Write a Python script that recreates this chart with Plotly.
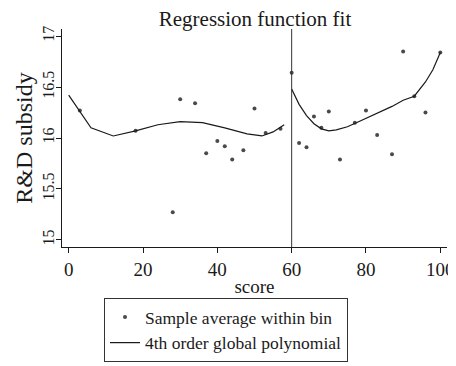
import plotly.graph_objects as go

# Binned sample averages
bin_x = [3, 18, 28, 30, 34, 37, 40, 42, 44, 47, 50, 53, 57,
         60, 62, 64, 66, 68, 70, 73, 77, 80, 83, 87, 90, 93, 96, 100]
bin_y = [16.27, 16.07, 15.27, 16.38, 16.34, 15.85, 15.97, 15.92, 15.79, 15.88, 16.29, 16.05, 16.09,
         16.64, 15.95, 15.91, 16.21, 16.10, 16.26, 15.79, 16.15, 16.27, 16.03, 15.84, 16.85, 16.41, 16.25, 16.84]

# 4th order global polynomial fit, left of cutoff
fit_left_x = [0, 6, 12, 18, 24, 30, 36, 42, 48, 52, 55, 58]
fit_left_y = [16.42, 16.10, 16.02, 16.07, 16.13, 16.16, 16.15, 16.10, 16.04, 16.02, 16.06, 16.13]

# 4th order global polynomial fit, right of cutoff
fit_right_x = [60, 62, 64, 66, 68, 70, 72, 75, 78, 81, 84, 87, 90, 93, 96, 98, 100]
fit_right_y = [16.48, 16.33, 16.22, 16.14, 16.09, 16.07, 16.08, 16.11, 16.16, 16.21, 16.26, 16.31, 16.37, 16.41, 16.55, 16.67, 16.84]

cutoff = 60
x_ticks = [0, 20, 40, 60, 80, 100]
y_ticks = [15, 15.5, 16, 16.5, 17]
y_tick_labels = ["15", "15.5", "16", "16.5", "17"]

FONT = "Liberation Serif, Times New Roman, serif"
INK = "#1a1a1a"

# the page body adds an 8px margin, so the figure is 8px smaller than the window
W, H = 448, 358
ML, MR, MT, MB = 54, 9, 21, 119
PW = W - ML - MR

fig = go.Figure()
fig.add_trace(go.Scatter(
    x=bin_x, y=bin_y, mode="markers",
    marker=dict(color="#4a4a4a", size=4),
    name="Sample average within bin"))
fig.add_trace(go.Scatter(
    x=fit_left_x, y=fit_left_y, mode="lines",
    line=dict(color=INK, width=1.2),
    name="4th order global polynomial", legendgroup="fit"))
fig.add_trace(go.Scatter(
    x=fit_right_x, y=fit_right_y, mode="lines",
    line=dict(color=INK, width=1.2),
    name="4th order global polynomial", legendgroup="fit", showlegend=False))

fig.add_vline(x=cutoff, line=dict(color="#333333", width=1))

fig.update_layout(
    width=W, height=H,
    margin=dict(l=ML, r=MR, t=MT, b=MB, autoexpand=False),
    paper_bgcolor="white", plot_bgcolor="white",
    font=dict(family=FONT, size=18, color=INK),
    title=dict(text="Regression function fit", x=247 / W, xanchor="center", xref="container",
               y=1 - 11 / H, yref="container", yanchor="middle", font=dict(size=21)),
    showlegend=True,
    legend=dict(x=(96 - ML) / PW, xref="paper", xanchor="left",
                y=(H - 290) / H, yref="container", yanchor="top",
                bordercolor="#333333", borderwidth=1, bgcolor="white",
                font=dict(size=17.5), itemwidth=30, tracegroupgap=0),
    xaxis=dict(range=[-1.8, 101.8], tickvals=x_ticks, showgrid=False, zeroline=False,
               showline=True, linecolor=INK, linewidth=1, automargin=False,
               ticks="outside", ticklen=5, tickcolor=INK,
               tickfont=dict(size=19),
               title=dict(text="score", font=dict(size=19), standoff=0)),
    yaxis=dict(range=[14.93, 17.07], tickvals=y_ticks, ticktext=y_tick_labels,
               showgrid=False, zeroline=False, automargin=False,
               showline=True, linecolor=INK, linewidth=1,
               ticks="outside", ticklen=5, tickcolor=INK,
               tickangle=-90, tickfont=dict(size=16), ticklabelstandoff=-4,
               title=dict(text="R&D subsidy", font=dict(size=24), standoff=0)),
)

fig.write_html("out.html")
